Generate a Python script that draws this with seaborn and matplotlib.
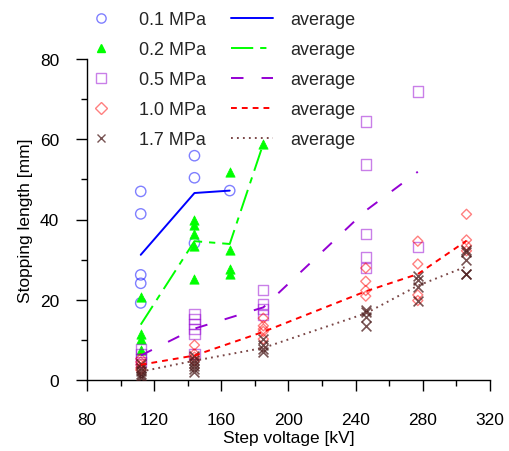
import matplotlib
matplotlib.use("Agg")
import matplotlib.pyplot as plt
import matplotlib.ticker as ticker
from matplotlib.lines import Line2D
import numpy as np
import pandas as pd
import seaborn as sns

# measured points, one list per pressure: (voltage kV, stopping length mm)
p01_v = [112, 112, 112, 112, 112, 144, 144, 144, 165]
p01_y = [47.0, 41.4, 26.2, 24.1, 19.2, 55.9, 50.4, 34.1, 47.2]
p02_v = [112, 112, 112, 112, 144, 144, 144, 144, 144, 165, 165, 165, 165, 185]
p02_y = [20.7, 11.5, 10.2, 7.6, 40.0, 38.7, 36.3, 33.5, 25.2, 51.9, 32.4, 27.7, 26.3, 58.9]
p05_v = [112, 112, 112, 112, 144, 144, 144, 144, 144, 144, 185, 185, 185, 185,
         246, 246, 246, 246, 246, 277, 277]
p05_y = [7.7, 6.5, 5.2, 4.5, 16.5, 15.2, 14.0, 12.7, 11.5, 6.5, 22.4, 19.0, 17.7, 16.2,
         64.4, 53.7, 36.3, 30.6, 27.9, 71.9, 33.1]
p10_v = [112, 112, 112, 112, 112, 144, 144, 144, 144, 185, 185, 185, 185, 185,
         246, 246, 246, 246, 277, 277, 277, 277, 306, 306, 306, 306]
p10_y = [5.3, 4.5, 3.8, 3.0, 2.5, 8.7, 6.5, 5.7, 4.8, 15.4, 13.5, 12.7, 12.1, 10.2,
         27.9, 24.6, 22.3, 20.9, 34.6, 28.9, 21.2, 19.8, 41.3, 34.9, 33.5, 32.2]
p17_v = [112, 112, 112, 112, 112, 112, 144, 144, 144, 144, 144, 144, 185, 185, 185, 185,
         246, 246, 246, 246, 277, 277, 277, 277, 306, 306, 306, 306, 306]
p17_y = [4.0, 3.0, 2.2, 1.5, 1.0, 0.6, 6.0, 5.0, 4.2, 3.5, 2.7, 1.9, 10.2, 8.6, 7.7, 6.9,
         17.5, 16.9, 15.6, 13.5, 26.0, 24.8, 23.1, 19.8, 32.5, 31.8, 29.8, 26.4, 26.4]

# average curves
avg01_v = [112, 144, 165]
avg01_y = [31.2, 46.6, 47.2]
avg02_v = [112, 144, 165, 185]
avg02_y = [13.8, 34.6, 33.9, 58.9]
avg05_v = [112, 144, 185, 246, 277]
avg05_y = [6.1, 12.8, 18.1, 42.2, 51.9]
avg10_v = [112, 144, 185, 246, 277, 306]
avg10_y = [3.8, 6.1, 12.0, 22.1, 26.4, 34.7]
avg17_v = [112, 144, 185, 246, 277, 306]
avg17_y = [2.1, 4.8, 8.0, 16.6, 23.5, 28.3]

labels = ["0.1 MPa", "0.2 MPa", "0.5 MPa", "1.0 MPa", "1.7 MPa"]

sns.set_theme(style="ticks")
plt.rcParams["font.family"] = ["Liberation Sans", "DejaVu Sans"]
plt.rcParams["lines.scale_dashes"] = False

fig = plt.figure(figsize=(5.1, 4.52), dpi=100)
ax = fig.add_axes([87 / 510, (452 - 381) / 452, 403 / 510, 321 / 452])

# marker style per pressure: (marker, color, alpha, size, open)
mstyles = [
    ("o", "blue", 0.5, 55, True),
    ("^", "#00ff00", 1.0, 45, False),
    ("s", "darkviolet", 0.5, 55, True),
    ("D", "red", 0.5, 26, True),
    ("x", "#4a1a1a", 0.75, 50, False),
]
# line style per average: (color, dashes)
lstyles = [
    ("#0000ff", (None, None)),
    ("#00ff00", (0, (16, 5, 4.5, 5))),
    ("#9400d3", (0, (9, 13))),
    ("#ff0000", (0, (4.2, 3.6))),
    ("#7a4646", (0, (1.3, 3.0))),
]

points = [(p01_v, p01_y), (p02_v, p02_y), (p05_v, p05_y), (p10_v, p10_y), (p17_v, p17_y)]
avgs = [(avg01_v, avg01_y), (avg02_v, avg02_y), (avg05_v, avg05_y),
        (avg10_v, avg10_y), (avg17_v, avg17_y)]

for (vx, vy), (mk, col, al, s, hollow) in zip(points, mstyles):
    df = pd.DataFrame({"v": vx, "len": vy})
    if hollow:
        sns.scatterplot(data=df, x="v", y="len", ax=ax, marker=mk, color=col,
                        facecolor="none", edgecolor=col, alpha=al, s=s, linewidth=1.0,
                        zorder=3)
    elif mk == "x":
        sns.scatterplot(data=df, x="v", y="len", ax=ax, marker=mk, color=col,
                        alpha=al, s=s, linewidth=1.2, zorder=3)
    else:
        sns.scatterplot(data=df, x="v", y="len", ax=ax, marker=mk, color=col,
                        edgecolor=col, alpha=al, s=s, linewidth=0.5, zorder=3)

for (vx, vy), (col, ls) in zip(avgs, lstyles):
    df = pd.DataFrame({"v": vx, "len": vy})
    sns.lineplot(data=df, x="v", y="len", ax=ax, color=col, estimator=None,
                 linewidth=1.4, zorder=4)
    if ls[0] is not None:
        ax.lines[-1].set_linestyle(ls)

ax.set_xlim(80, 320)
ax.set_ylim(0, 80)
ax.xaxis.set_major_locator(ticker.MultipleLocator(40))
ax.xaxis.set_minor_locator(ticker.MultipleLocator(20))
ax.yaxis.set_major_locator(ticker.MultipleLocator(20))
ax.yaxis.set_minor_locator(ticker.MultipleLocator(10))
ax.tick_params(which="major", direction="out", length=8, width=1, pad=12,
               labelsize=12.5, color="black", labelcolor="black")
ax.tick_params(axis="x", which="major", pad=15)
ax.tick_params(which="minor", direction="out", length=4.5, width=1, color="black")
sns.despine(ax=ax)
for sp in ["left", "bottom"]:
    ax.spines[sp].set_color("black")
    ax.spines[sp].set_linewidth(1)
ax.set_xlabel("Step voltage [kV]", fontsize=12.5, labelpad=2, color="black")
ax.set_ylabel("Stopping length [mm]", fontsize=12.5, labelpad=5, color="black")

handles = []
for mk, col, al, s, hollow in mstyles:
    ms = np.sqrt(s) * (1.1 if mk == "D" else 0.9)
    handles.append(Line2D([], [], linestyle="none", marker=mk, markersize=ms,
                          markerfacecolor="none" if hollow else col,
                          markeredgecolor=col, alpha=al, markeredgewidth=1.0))
for col, ls in lstyles:
    handles.append(Line2D([], [], color=col, linewidth=1.4,
                          linestyle="-" if ls[0] is None else ls))
leg_labels = labels + ["average"] * 5
fig.legend(handles, leg_labels, ncol=2, loc="upper left",
           bbox_to_anchor=(80 / 510, 1 - 12 / 452), bbox_transform=fig.transFigure,
           frameon=False, fontsize=13, handlelength=2.33, handletextpad=0.94,
           columnspacing=1.38, labelspacing=0.72, borderpad=0, borderaxespad=0)

fig.savefig("out.png", dpi=100)
